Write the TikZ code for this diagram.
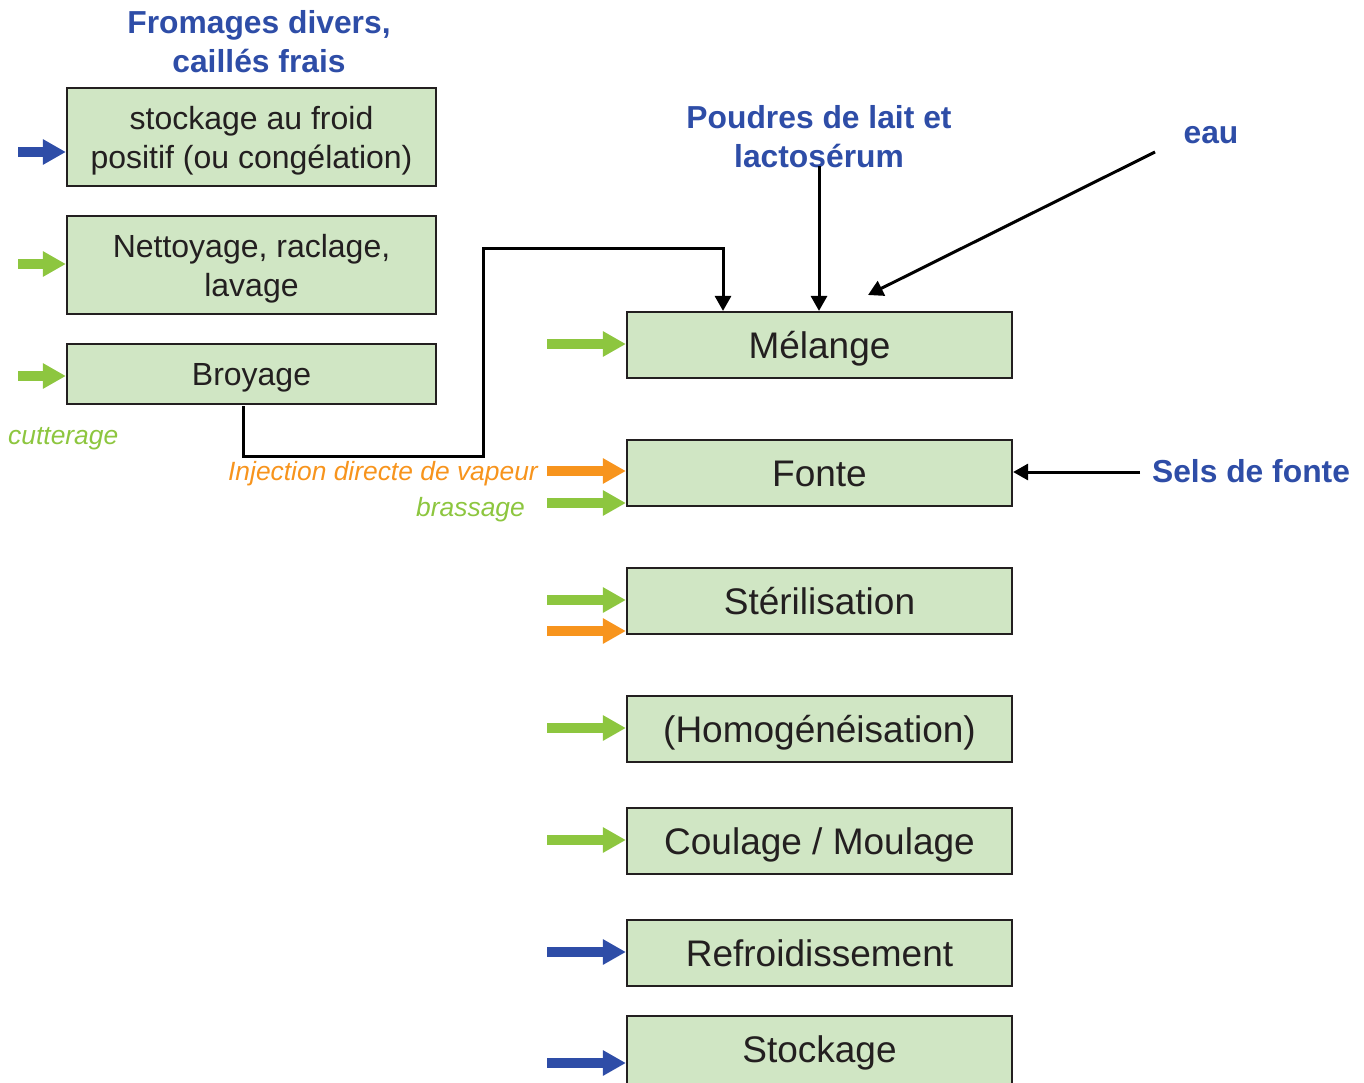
\documentclass[tikz,border=0pt]{standalone}
\usepackage{fontspec}
\setmainfont{Liberation Sans}
\usetikzlibrary{arrows.meta}
\definecolor{boxfill}{HTML}{D0E6C4}
\definecolor{gr}{HTML}{8DC63F}
\definecolor{orng}{HTML}{F7941D}
\definecolor{blu}{HTML}{2E4DA7}
\definecolor{ink}{HTML}{231F20}
\begin{document}
\begin{tikzpicture}[x=1pt,y=-1pt,
  leftbox/.style={draw=ink, line width=2.2pt, fill=boxfill, minimum width=369pt, minimum height=98pt, inner sep=0pt, align=center, text=ink, font=\fontsize{32}{39}\selectfont},
  rightbox/.style={draw=ink, line width=2.2pt, fill=boxfill, minimum width=385pt, minimum height=66pt, inner sep=0pt, text=ink, text height=26.5pt, text depth=0pt, font=\fontsize{37}{44}\selectfont},
  bluelabel/.style={text=blu, align=center, inner sep=0pt, font=\fontsize{31.8}{39}\bfseries\selectfont},
  itlabel/.style={inner sep=0pt, font=\fontsize{26.4}{30}\itshape\selectfont},
  flow/.style={line width=10pt, -{Triangle[length=23pt,width=24pt]}},
  flowg/.style={flow, draw=gr},
  flowo/.style={flow, draw=orng},
  flowb/.style={flow, draw=blu},
  conn/.style={draw=black, line width=3pt, -{Triangle[length=15pt,width=16pt]}}
]
\useasboundingbox (0,0) rectangle (1364,1082);

% left column
\node[bluelabel] (fro) at (259,41.5) {Fromages divers,\\caillés frais};
\node[leftbox] (sto) at (251.5,137) {};
\node[align=center, inner sep=0pt, text=ink, font=\fontsize{32}{39}\selectfont] (stot) at (251.5,141) {stockage au froid\\positif (ou congélation)};
\node[leftbox] (net) at (251.5,265) {};
\node[align=center, inner sep=0pt, text=ink, font=\fontsize{32}{39}\selectfont] (nett) at (251.5,269) {Nettoyage, raclage,\\lavage};
\node[leftbox, minimum height=60pt, text height=22.5pt, text depth=0pt] (bro) at (251.5,374) {Broyage};
\node[itlabel, text=gr, anchor=base west] (cut) at (8,444) {cutterage};

\coordinate (l1) at (18,152);
\coordinate (l2) at (18,264);
\coordinate (l3) at (18,376);
\draw[flowb] (l1) -- (l1 -| sto.west);
\draw[flowg] (l2) -- (l2 -| net.west);
\draw[flowg] (l3) -- (l3 -| bro.west);

% right column
\node[rightbox] (mel) at (819.5,345) {Mélange};
\node[rightbox] (fon) at (819.5,473) {Fonte};
\node[rightbox] (ste) at (819.5,601) {Stérilisation};
\node[rightbox] (hom) at (819.5,729) {(Homogénéisation)};
\node[rightbox] (cou) at (819.5,841) {Coulage / Moulage};
\node[rightbox] (ref) at (819.5,953) {Refroidissement};
\node[rightbox, minimum height=90pt] (stk) at (819.5,1061) {};
\node[inner sep=0pt, text=ink, text height=26.5pt, text depth=0pt, font=\fontsize{37}{44}\selectfont] (stkt) at (819.5,1049) {Stockage};

\coordinate (r1) at (547,344);
\coordinate (r2) at (547,471);
\coordinate (r3) at (547,503);
\coordinate (r4) at (547,600);
\coordinate (r5) at (547,631);
\coordinate (r6) at (547,728);
\coordinate (r7) at (547,840);
\coordinate (r8) at (547,952);
\coordinate (r9) at (547,1063);
\draw[flowg] (r1) -- (r1 -| mel.west);
\draw[flowo] (r2) -- (r2 -| fon.west);
\draw[flowg] (r3) -- (r3 -| fon.west);
\draw[flowg] (r4) -- (r4 -| ste.west);
\draw[flowo] (r5) -- (r5 -| ste.west);
\draw[flowg] (r6) -- (r6 -| hom.west);
\draw[flowg] (r7) -- (r7 -| cou.west);
\draw[flowb] (r8) -- (r8 -| ref.west);
\draw[flowb] (r9) -- (r9 -| stk.west);

\node[itlabel, text=orng, anchor=base east] (inj) at (538,480) {Injection directe de vapeur};
\node[itlabel, text=gr, anchor=base east] (bra) at (525,516) {brassage};

% Broyage to Mélange connector
\coordinate (b0) at (243,406);
\coordinate (b1) at (723,248);
\draw[conn] (b0) -- (243,456) -- (483,456) -- (483,248) -- (b1) -- (b1 |- mel.north);

% top inputs
\node[bluelabel] (pou) at (819,137) {Poudres de lait et\\lactosérum};
\coordinate (p0) at (819,166);
\draw[conn] (p0) -- (p0 |- mel.north);

\node[bluelabel] (eau) at (1211,135) {eau};
\coordinate (e0) at (1155,152);
\coordinate (e1) at (868,295);
\draw[conn] (e0) -- (e1);

\node[bluelabel] (sel) at (1251,471) {Sels de fonte};
\coordinate (s0) at (1140,472);
\draw[conn] (s0) -- (s0 -| fon.east);
\end{tikzpicture}
\end{document}
